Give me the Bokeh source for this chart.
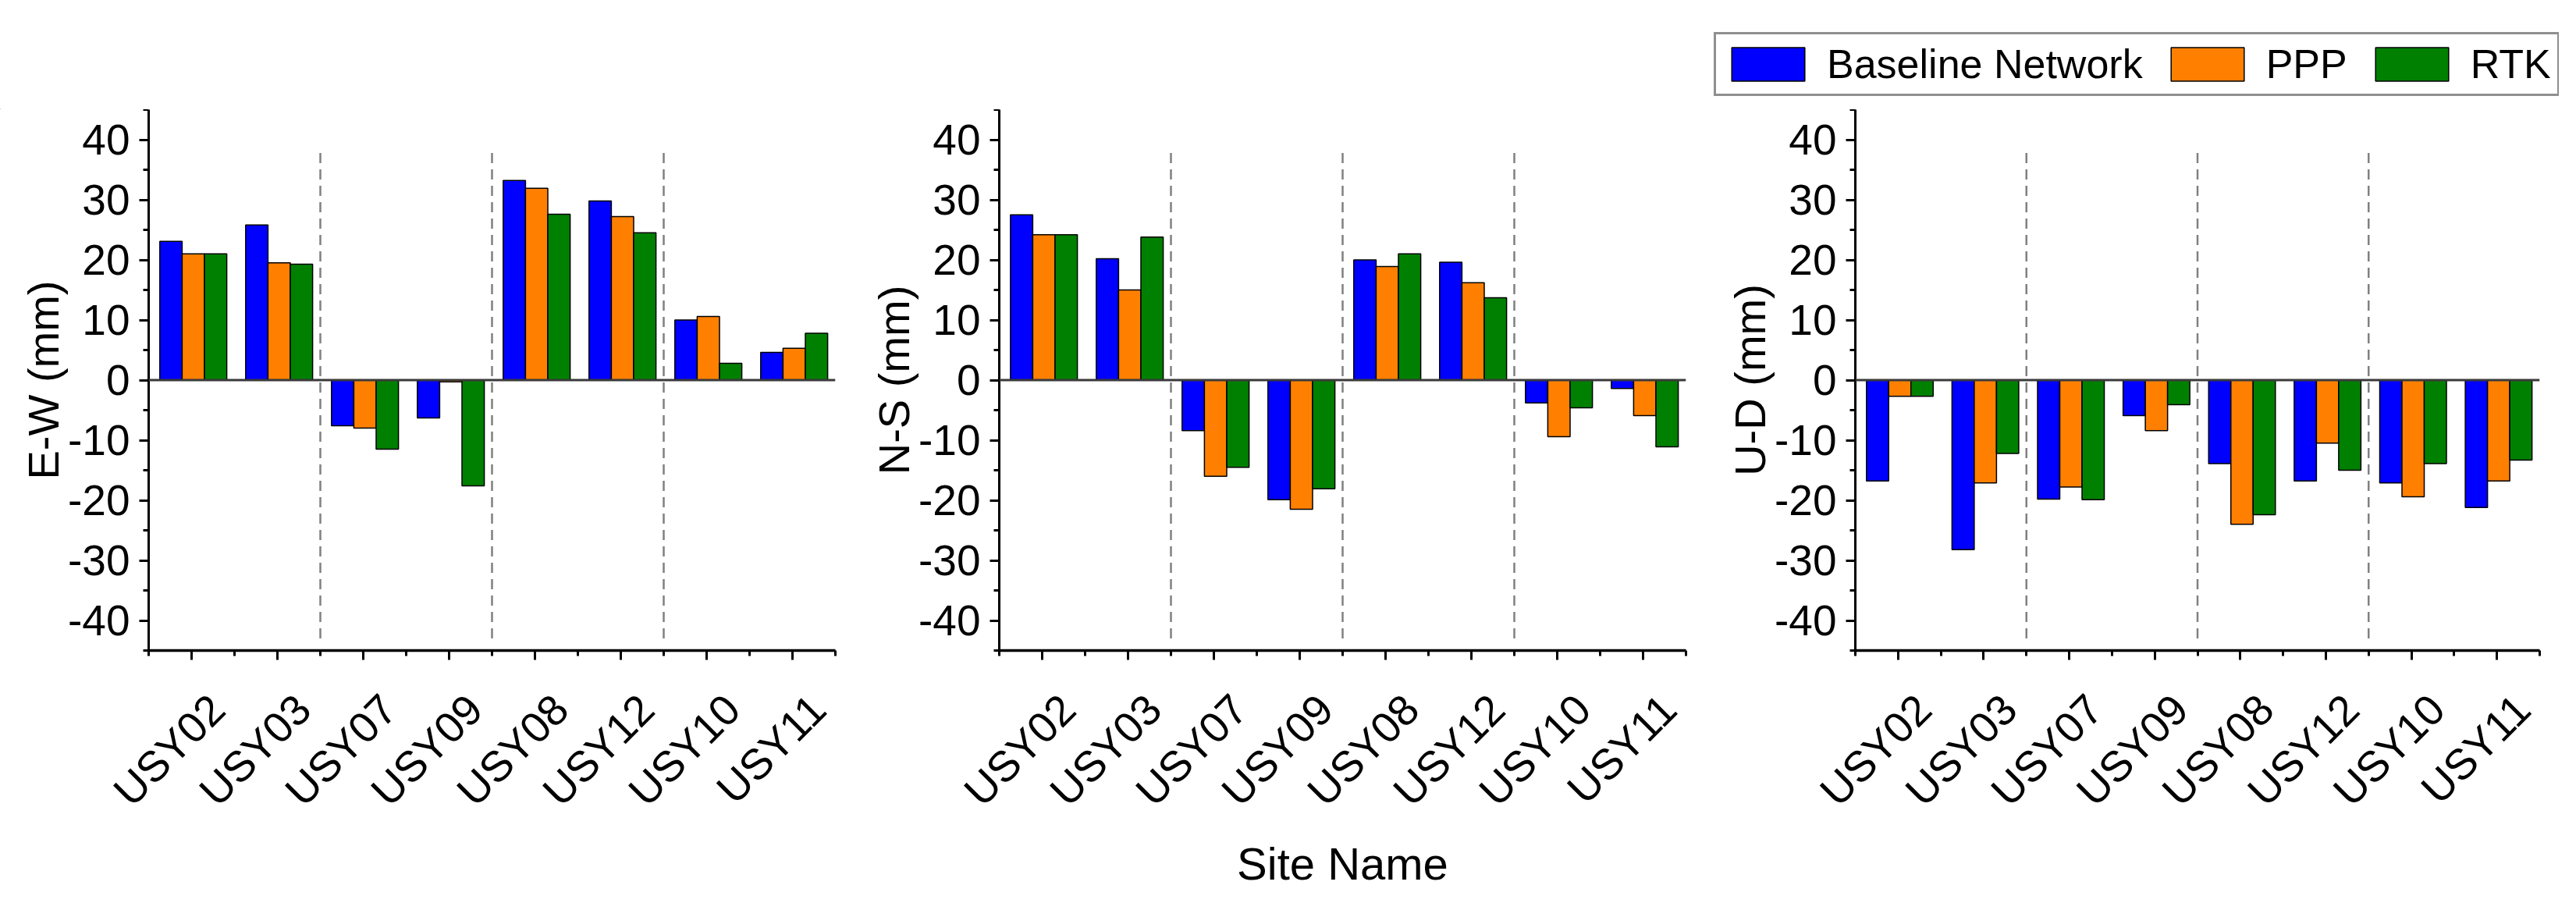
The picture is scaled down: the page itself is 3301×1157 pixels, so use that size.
import math
from bokeh.plotting import figure
from bokeh.layouts import row, column
from bokeh.models import (FixedTicker, LinearAxis, Range1d, Span, Legend, LegendItem,
                          ColumnDataSource)
from bokeh.transform import dodge
from bokeh.embed import file_html
from bokeh.resources import INLINE

# ---------------- data ----------------
sites = ["USY02", "USY03", "USY07", "USY09", "USY08", "USY12", "USY10", "USY11"]
series_names = ["Baseline Network", "PPP", "RTK"]

ew_baseline = [23.1, 25.8, -7.6, -6.3, 33.2, 29.8, 10.0, 4.6]
ew_ppp = [21.0, 19.5, -8.0, -0.3, 31.9, 27.2, 10.6, 5.3]
ew_rtk = [21.0, 19.3, -11.5, -17.6, 27.6, 24.5, 2.8, 7.8]

ns_baseline = [27.5, 20.2, -8.4, -19.9, 20.0, 19.6, -3.8, -1.4]
ns_ppp = [24.2, 15.0, -16.0, -21.5, 18.9, 16.2, -9.4, -5.9]
ns_rtk = [24.2, 23.8, -14.5, -18.1, 21.0, 13.7, -4.6, -11.1]

ud_baseline = [-16.8, -28.2, -19.8, -5.9, -13.9, -16.8, -17.1, -21.2]
ud_ppp = [-2.7, -17.1, -17.8, -8.4, -24.0, -10.5, -19.4, -16.8]
ud_rtk = [-2.7, -12.2, -19.9, -4.1, -22.4, -15.0, -13.9, -13.3]

y_ticks = [-40, -30, -20, -10, 0, 10, 20, 30, 40]
y_minor = [-45, -35, -25, -15, -5, 5, 15, 25, 35, 45]

colors = ["#0000FF", "#FF8000", "#008000"]
FONT = "Liberation Sans"

TOP_H = 140          # strip holding the legend
H = 1141 - TOP_H     # panel figures
FRAME_H = 705
BORDER_BOTTOM = H - FRAME_H
BORDER_LEFT = 190


def make_panel(ylabel, b, pp, rt, frame_w, border_right, xlabel=None):
    n = len(sites)
    x_idx = list(range(n))
    p = figure(width=BORDER_LEFT + frame_w + border_right, height=H,
               x_range=Range1d(-0.5, n - 0.5), y_range=Range1d(-45, 45),
               output_backend="svg", toolbar_location=None,
               min_border_left=BORDER_LEFT, min_border_right=border_right,
               min_border_top=0, min_border_bottom=BORDER_BOTTOM)
    p.outline_line_color = None
    p.xgrid.visible = False
    p.ygrid.visible = False
    p.background_fill_color = "white"
    p.border_fill_color = "white"

    # main x axis: ticks only
    xa = p.xaxis[0]
    xa.ticker = FixedTicker(ticks=x_idx, minor_ticks=[i - 0.5 for i in range(n + 1)])
    xa.major_label_overrides = {i: "" for i in x_idx}
    xa.major_label_text_font_size = "1px"
    xa.major_label_standoff = 0
    xa.axis_line_width = 3.5
    xa.axis_line_color = "black"
    xa.major_tick_out = 12
    xa.major_tick_in = 0
    xa.minor_tick_out = 7
    xa.minor_tick_in = 0
    xa.major_tick_line_width = 3
    xa.minor_tick_line_width = 3
    xa.major_tick_line_color = "black"
    xa.minor_tick_line_color = "black"

    # label axis, shifted slightly right like the original
    p.extra_x_ranges = {"lab": Range1d(-0.5 - 0.3, n - 0.5 - 0.3)}
    la = LinearAxis(x_range_name="lab",
                    ticker=FixedTicker(ticks=x_idx, minor_ticks=[]),
                    major_label_overrides={i: s for i, s in enumerate(sites)},
                    axis_line_color=None, major_tick_line_color=None,
                    minor_tick_line_color=None, major_tick_out=0, major_tick_in=0,
                    minor_tick_out=0, minor_tick_in=0,
                    major_label_orientation=math.pi / 4,
                    major_label_standoff=54,
                    major_label_text_font=FONT,
                    major_label_text_font_size="55px",
                    major_label_text_color="black")
    if xlabel:
        la.axis_label = xlabel
        la.axis_label_text_font = FONT
        la.axis_label_text_font_size = "58px"
        la.axis_label_text_font_style = "normal"
        la.axis_label_text_color = "black"
        la.axis_label_standoff = 4
    p.add_layout(la, "below")

    ya = p.yaxis[0]
    ya.ticker = FixedTicker(ticks=y_ticks, minor_ticks=y_minor)
    ya.major_label_overrides = {t: str(t) for t in y_ticks}
    ya.axis_label = ylabel
    ya.axis_label_text_font = FONT
    ya.axis_label_text_font_size = "56px"
    ya.axis_label_text_font_style = "normal"
    ya.axis_label_text_color = "black"
    ya.axis_label_standoff = -3
    ya.major_label_text_font = FONT
    ya.major_label_text_font_size = "55px"
    ya.major_label_text_color = "black"
    ya.major_label_standoff = 12
    ya.axis_line_width = 3
    ya.axis_line_color = "black"
    ya.major_tick_out = 12
    ya.major_tick_in = 0
    ya.minor_tick_out = 7
    ya.minor_tick_in = 0
    ya.major_tick_line_width = 3
    ya.minor_tick_line_width = 3
    ya.major_tick_line_color = "black"
    ya.minor_tick_line_color = "black"

    # group separators
    bnds = [2 * k - 0.5 for k in range(1, n // 2)]
    p.segment(x0=bnds, y0=[-43] * len(bnds), x1=bnds, y1=[38] * len(bnds),
              line_color="#808080", line_width=2.5, line_dash="13 8")

    src = ColumnDataSource(dict(x=x_idx, b=b, p=pp, r=rt))
    offsets = [-0.24, 0.02, 0.28]
    for k, col in enumerate(["b", "p", "r"]):
        p.vbar(x=dodge("x", offsets[k]), top=col, bottom=0, width=0.26,
               fill_color=colors[k], line_color="black", line_width=1.5,
               source=src)

    p.add_layout(Span(location=0, dimension="width", line_color="#3a3a3a",
                      line_width=3))
    return p


p1 = make_panel("E-W (mm)", ew_baseline, ew_ppp, ew_rtk, 880, 20)
p2 = make_panel("N-S (mm)", ns_baseline, ns_ppp, ns_rtk, 880, 27, xlabel="Site Name")
p3 = make_panel("U-D (mm)", ud_baseline, ud_ppp, ud_rtk, 877, 25)
total_w = p1.width + p2.width + p3.width

# legend strip above the panels (legend proxies sit outside the visible range)
lf = figure(width=total_w, height=TOP_H, x_range=Range1d(0, 1), y_range=Range1d(0, 1),
            output_backend="svg", toolbar_location=None,
            x_axis_location=None, y_axis_location=None,
            min_border_left=0, min_border_right=0, min_border_top=0, min_border_bottom=0)
lf.outline_line_color = None
lf.xgrid.visible = False
lf.ygrid.visible = False
proxy = ColumnDataSource(dict(x=[-5], top=[-5]))
items = []
for k in range(3):
    r = lf.vbar(x="x", top="top", bottom=-6, width=0.1, fill_color=colors[k],
                line_color="black", line_width=1.5, source=proxy)
    items.append(LegendItem(label=series_names[k], renderers=[r]))

legend = Legend(items=items, orientation="horizontal", location=(2196, 17),
                glyph_width=117, glyph_height=54, label_standoff=17, spacing=24,
                padding=8, margin=0,
                label_text_font=FONT, label_text_font_size="52px",
                label_text_color="black",
                border_line_color="#202020", border_line_width=3,
                background_fill_color="white", background_fill_alpha=1.0)
lf.add_layout(legend)

layout = column(lf, row(p1, p2, p3))
open("out.html", "w").write(file_html(layout, INLINE))
